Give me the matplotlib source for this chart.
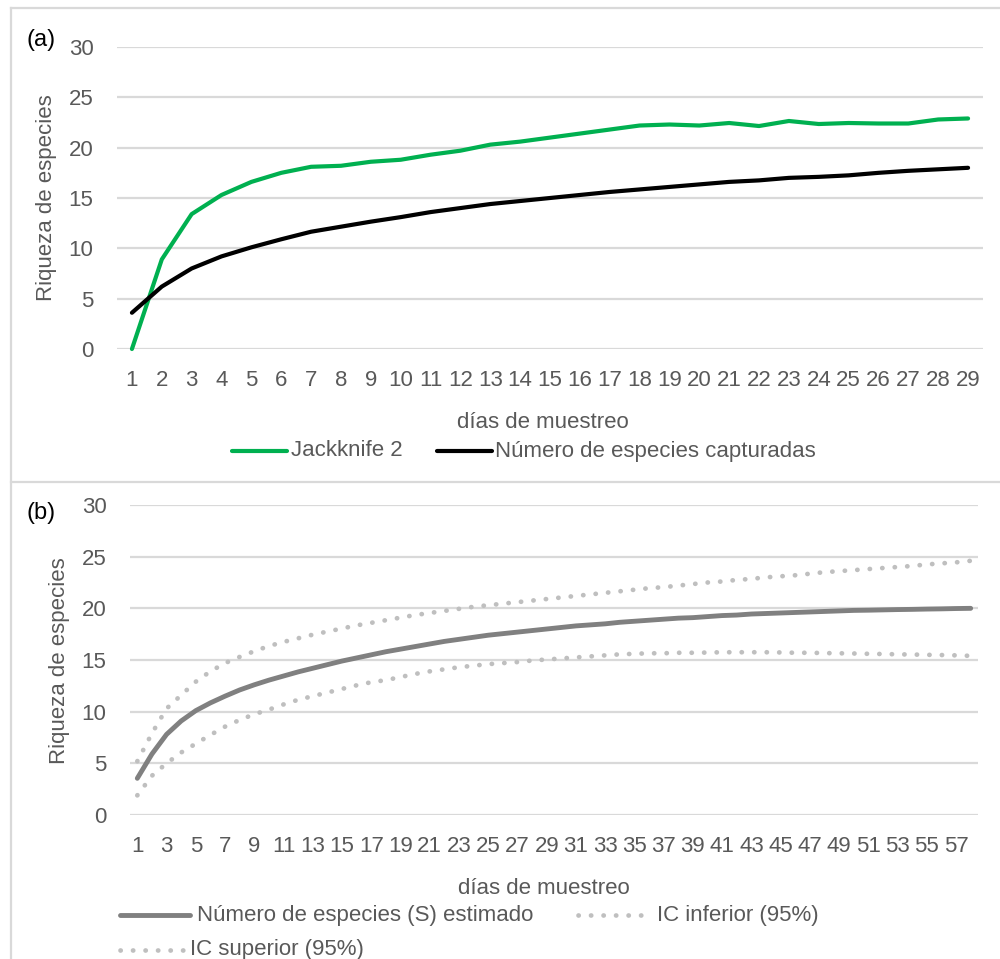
import matplotlib
matplotlib.use("Agg")
import matplotlib.pyplot as plt
from matplotlib import font_manager
from matplotlib.lines import Line2D

# ---------------- data ----------------
days_a = list(range(1, 30))
jackknife2 = [0.0, 8.9, 13.4, 15.3, 16.6, 17.5, 18.1, 18.2, 18.6, 18.8,
              19.3, 19.7, 20.3, 20.6, 21.0, 21.4, 21.8, 22.2, 22.3, 22.2,
              22.45, 22.15, 22.65, 22.35, 22.45, 22.4, 22.4, 22.8, 22.9]
capturadas = [3.6, 6.2, 8.0, 9.2, 10.1, 10.9, 11.65, 12.15, 12.65, 13.1,
              13.6, 14.0, 14.4, 14.7, 15.0, 15.3, 15.6, 15.85, 16.1, 16.35,
              16.6, 16.75, 17.0, 17.1, 17.25, 17.5, 17.7, 17.85, 18.0]

days_b = list(range(1, 59))
s_estimado = [3.55, 5.9, 7.8, 9.1, 10.1, 10.85, 11.5, 12.1, 12.6, 13.05,
              13.45, 13.85, 14.2, 14.55, 14.9, 15.2, 15.5, 15.8, 16.05, 16.3,
              16.55, 16.8, 17.0, 17.2, 17.4, 17.55, 17.7, 17.85, 18.0, 18.15,
              18.3, 18.4, 18.5, 18.65, 18.75, 18.85, 18.95, 19.05, 19.1, 19.2,
              19.3, 19.35, 19.45, 19.5, 19.55, 19.6, 19.65, 19.7, 19.75, 19.8,
              19.82, 19.85, 19.88, 19.9, 19.93, 19.95, 19.98, 20.0]
ic_inferior = [1.9, 3.8, 5.0, 6.05, 6.9, 7.75, 8.55, 9.2, 9.75, 10.2,
               10.7, 11.15, 11.5, 11.85, 12.2, 12.55, 12.85, 13.05, 13.35, 13.65,
               13.9, 14.1, 14.3, 14.45, 14.6, 14.7, 14.8, 14.95, 15.05, 15.15,
               15.25, 15.35, 15.45, 15.55, 15.6, 15.65, 15.65, 15.7, 15.7, 15.72,
               15.75, 15.75, 15.75, 15.75, 15.73, 15.7, 15.7, 15.67, 15.65, 15.63,
               15.6, 15.58, 15.55, 15.53, 15.5, 15.48, 15.45, 15.4]
ic_superior = [5.2, 7.9, 10.3, 11.6, 12.9, 13.9, 14.7, 15.3, 15.85, 16.35,
               16.75, 17.1, 17.45, 17.75, 18.05, 18.35, 18.6, 18.85, 19.1, 19.35,
               19.55, 19.75, 19.95, 20.15, 20.3, 20.45, 20.6, 20.75, 20.9, 21.05,
               21.2, 21.35, 21.5, 21.65, 21.8, 21.95, 22.05, 22.2, 22.35, 22.5,
               22.6, 22.75, 22.85, 23.0, 23.1, 23.2, 23.35, 23.5, 23.6, 23.7,
               23.8, 23.9, 24.0, 24.1, 24.25, 24.35, 24.45, 24.6]

yticks = [0, 5, 10, 15, 20, 25, 30]
xlabel = "días de muestreo"
ylabel = "Riqueza de especies"
legend_a = ["Jackknife 2", "Número de especies capturadas"]
legend_b = ["Número de especies (S) estimado", "IC inferior (95%)", "IC superior (95%)"]

# ---------------- style ----------------
names = {f.name for f in font_manager.fontManager.ttflist}
if "Liberation Sans Narrow" in names:
    FAM = ["Liberation Sans Narrow", "DejaVu Sans"]
    FS = 18
else:
    FAM = ["Liberation Sans", "DejaVu Sans"]
    FS = 16
plt.rcParams["font.family"] = FAM

TXT = "#595959"
GRID = "#D9D9D9"
GREEN = "#00B050"
GRAY = "#808080"
LGRAY = "#BFBFBF"

W, H = 1000, 959
fig = plt.figure(figsize=(W / 100, H / 100), dpi=100)


def fx(px):
    return px / W


def fy(py):
    return 1 - py / H


# panel borders
for y in (7.5, 481.5):
    fig.add_artist(Line2D([fx(11), 1.0], [fy(y), fy(y)], color=GRID, lw=1.6,
                          transform=fig.transFigure))
fig.add_artist(Line2D([fx(11), fx(11)], [fy(7.5), 0.0], color=GRID, lw=1.6,
                      transform=fig.transFigure))


def style_axis(ax, n, labels_step):
    ax.set_ylim(0, 30)
    ax.set_yticks(yticks)
    ax.set_xlim(0.5, n + 0.5)
    ticks = list(range(1, n + 1, labels_step))
    ax.set_xticks(ticks)
    ax.set_xticklabels([str(t) for t in ticks])
    ax.grid(axis="y", color=GRID, lw=1.6)
    ax.set_axisbelow(True)
    for s in ax.spines.values():
        s.set_visible(False)
    ax.tick_params(length=0, labelsize=FS, labelcolor=TXT)
    ax.tick_params(axis="y", pad=17)
    ax.tick_params(axis="x", pad=15)


# ---------------- panel (a) ----------------
axa = fig.add_axes([fx(117), fy(349), fx(983 - 117), (349 - 47) / H])
style_axis(axa, len(days_a), 1)
ha, = axa.plot(days_a, jackknife2, color=GREEN, lw=3.0, solid_capstyle="round",
               solid_joinstyle="round", clip_on=False)
hb, = axa.plot(days_a, capturadas, color="black", lw=3.0, solid_capstyle="round",
               solid_joinstyle="round", clip_on=False)

fig.text(fx(543), fy(423), xlabel, ha="center", va="center", fontsize=FS, color=TXT)
fig.text(fx(47), fy(198), ylabel, ha="center", va="center", rotation=90,
         fontsize=FS, color=TXT)
fig.text(fx(27), fy(40), "(a)", ha="left", va="center", fontsize=FS + 1, color="black")

# legend (a)
for (x0, x1, xt), h, lab in zip([(232, 287, 291), (437, 492, 495)], [ha, hb], legend_a):
    fig.add_artist(Line2D([fx(x0), fx(x1)], [fy(451), fy(451)], color=h.get_color(),
                          lw=h.get_linewidth(), solid_capstyle="round",
                          transform=fig.transFigure))
    fig.text(fx(xt), fy(451), lab, ha="left", va="center", fontsize=FS, color=TXT)

# ---------------- panel (b) ----------------
axb = fig.add_axes([fx(130), fy(815), fx(978 - 130), (815 - 505) / H])
style_axis(axb, len(days_b), 2)
dots = (0, (0.05, 2.6))
hs, = axb.plot(days_b, s_estimado, color=GRAY, lw=3.5, solid_capstyle="round",
               clip_on=False)
hi, = axb.plot(days_b, ic_inferior, color=LGRAY, lw=3.4, linestyle=dots,
               dash_capstyle="round", clip_on=False)
hu, = axb.plot(days_b, ic_superior, color=LGRAY, lw=3.4, linestyle=dots,
               dash_capstyle="round", clip_on=False)

fig.text(fx(544), fy(888), xlabel, ha="center", va="center", fontsize=FS, color=TXT)
fig.text(fx(60), fy(661), ylabel, ha="center", va="center", rotation=90,
         fontsize=FS, color=TXT)
fig.text(fx(27), fy(513), "(b)", ha="left", va="center", fontsize=FS + 1, color="black")

# legend (b)
leg_pos = [(120, 190, 197, 915), (578, 645, 657, 915), (120, 185, 190, 950)]
for (x0, x1, xt, y), h, lab in zip(leg_pos, [hs, hi, hu], legend_b):
    if h is hs:
        ln = Line2D([fx(x0), fx(x1)], [fy(y), fy(y)], color=h.get_color(),
                    lw=h.get_linewidth(), solid_capstyle="round",
                    transform=fig.transFigure)
    else:
        ln = Line2D([fx(x0), fx(x1)], [fy(y), fy(y)], color=h.get_color(),
                    lw=h.get_linewidth(), linestyle=dots, dash_capstyle="round",
                    transform=fig.transFigure)
    fig.add_artist(ln)
    fig.text(fx(xt), fy(y), lab, ha="left", va="center", fontsize=FS, color=TXT)

fig.savefig("out.png", dpi=100)
